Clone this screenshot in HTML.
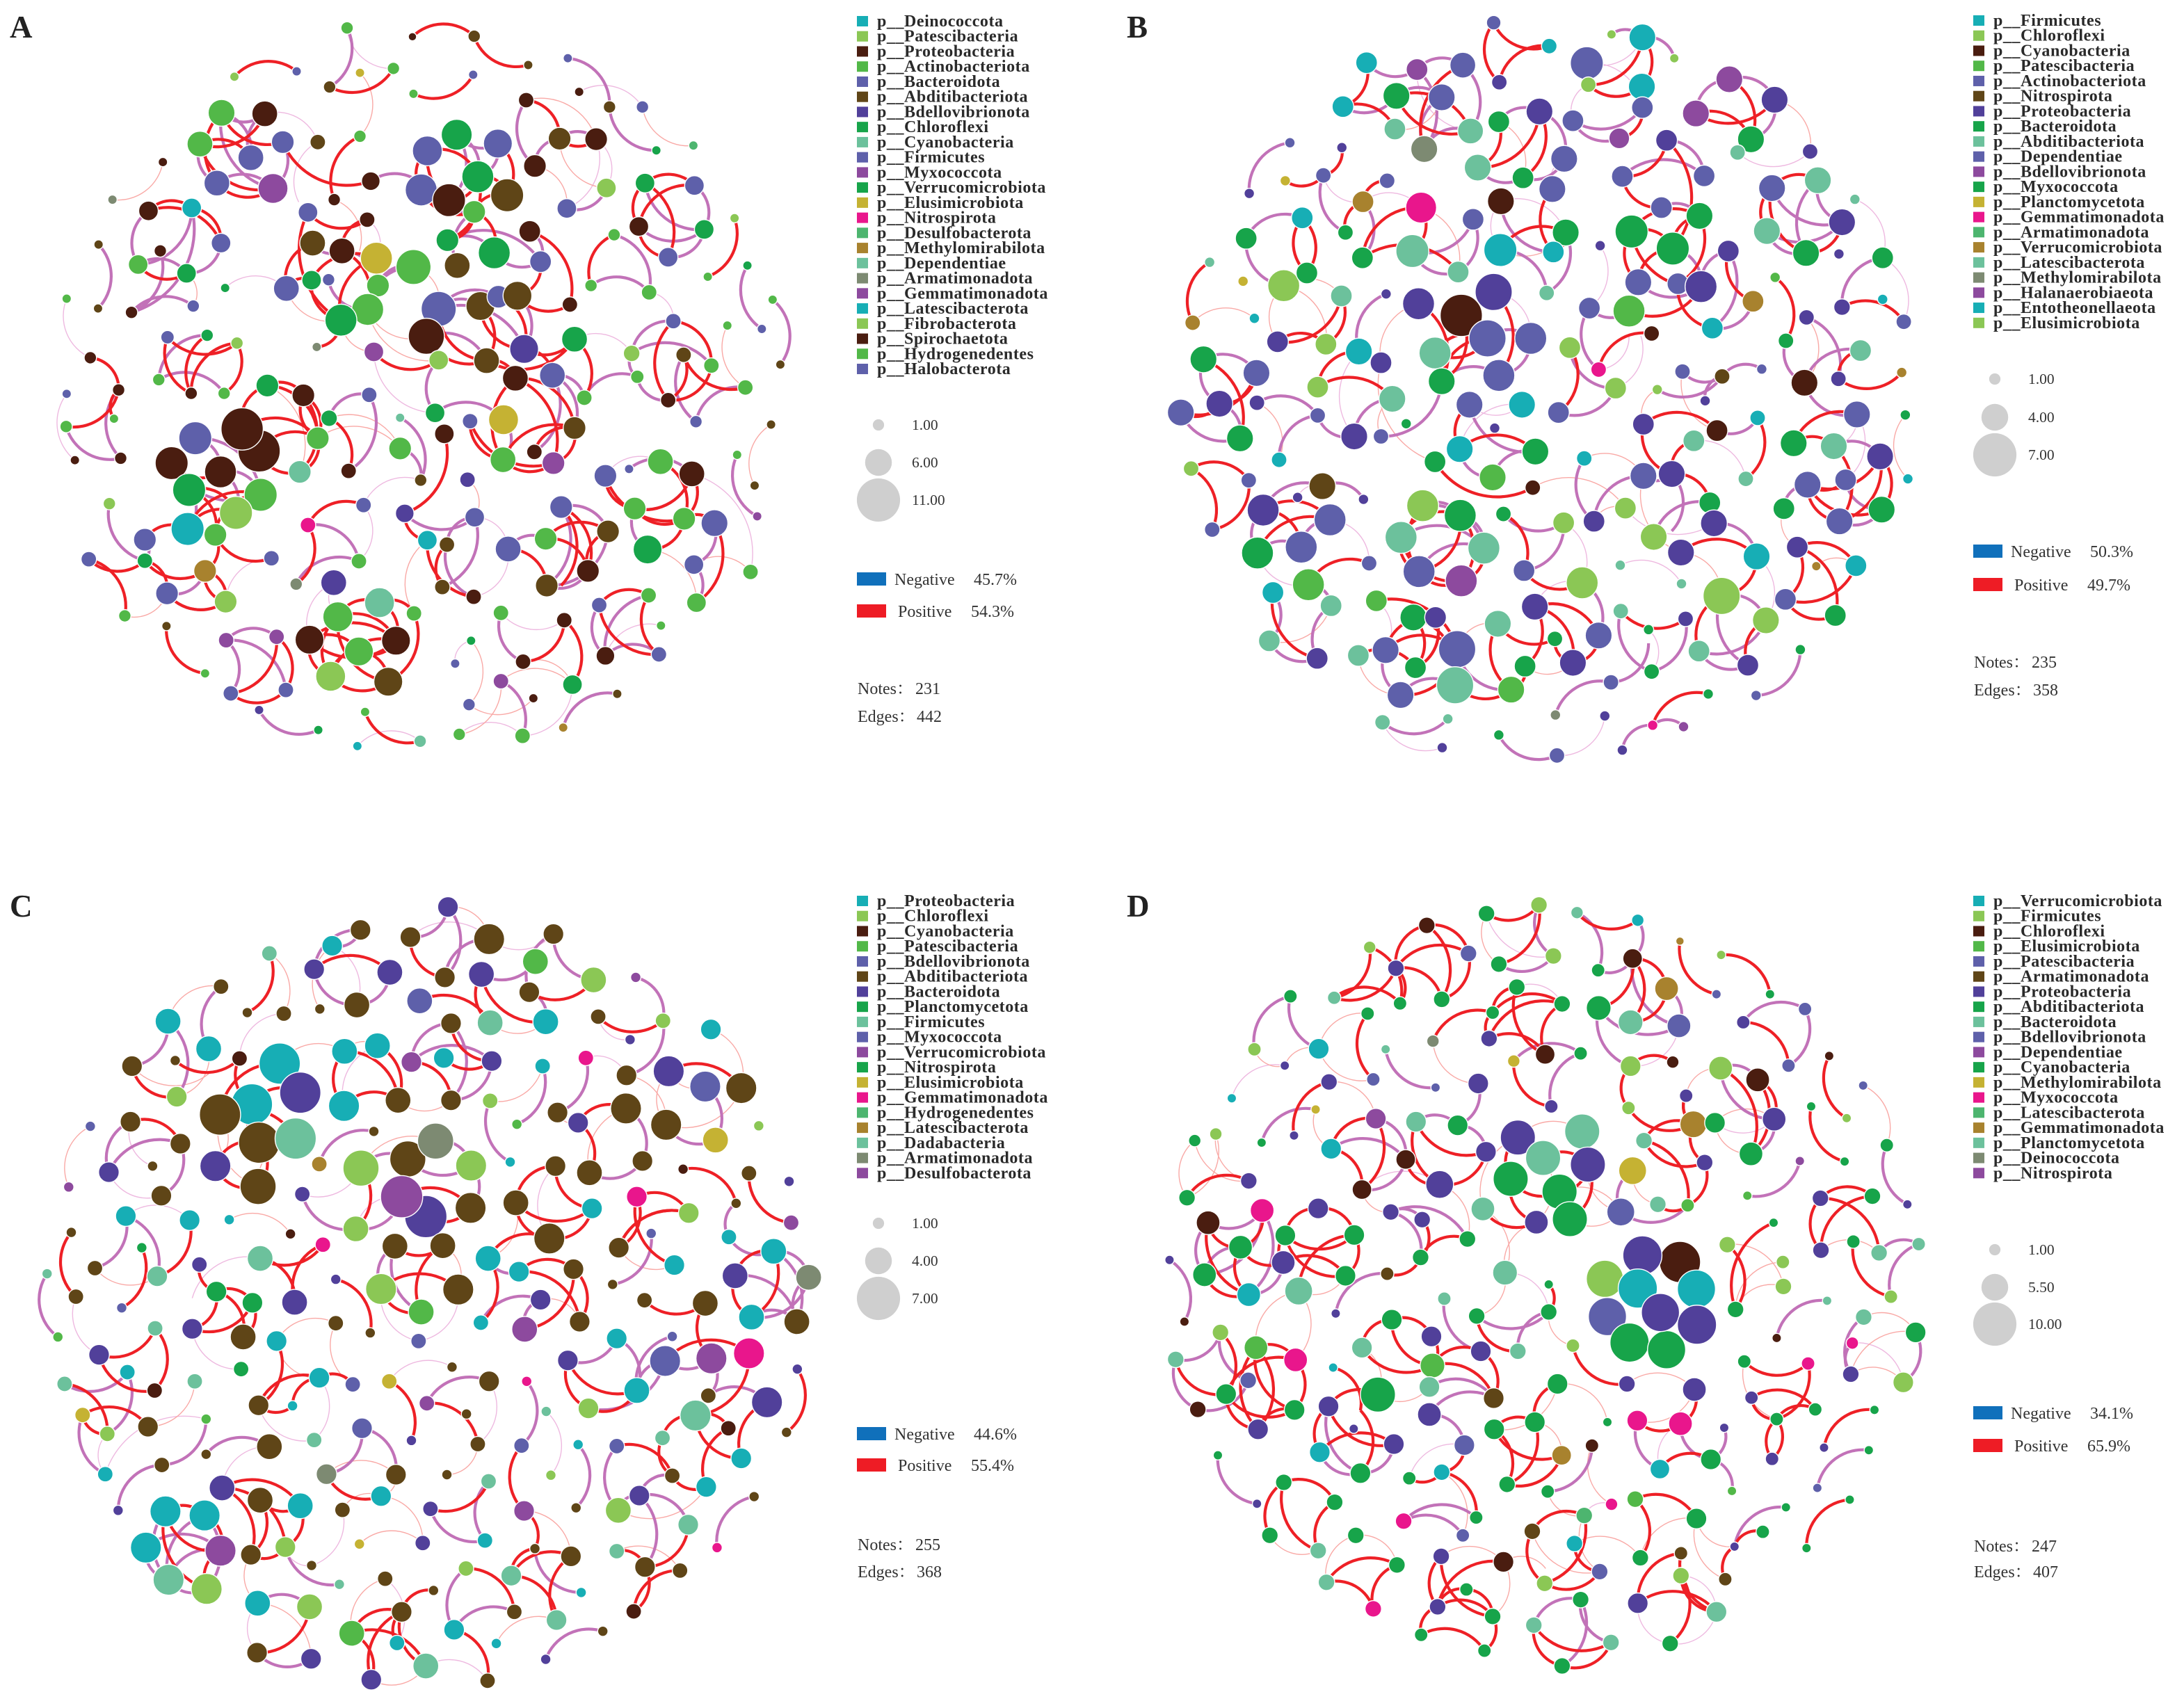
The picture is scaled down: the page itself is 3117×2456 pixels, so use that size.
<!DOCTYPE html>
<html lang="en">
<head>
<meta charset="utf-8">
<title>Co-occurrence networks A-D</title>
<style>
html,body{margin:0;padding:0;background:#fff;}
svg{display:block;}
text{font-family:"Liberation Serif","Noto Serif CJK SC",serif;}
.lg{font-weight:bold;font-size:24px;fill:#2a2a2a;letter-spacing:.55px;}
.sz{font-size:21.5px;fill:#333;}
.st{font-size:24px;fill:#333;}
.pl{font-weight:bold;font-size:45px;fill:#222;}
</style>
</head>
<body>
<svg id="fig" xmlns="http://www.w3.org/2000/svg" width="3117" height="2456" viewBox="0 0 3117 2456"></svg>
<script>
// node tuples: [layout x, layout y, node size, phylum colour index]
// edge tuples: [x1, y1, x2, y2, kind (0 positive, 1 negative, 2 weak positive, 3 weak negative), bend side]
const nodesA=[[634,43,12,3],[761,61,8,2],[881,60,12,5],[536,132,9,4],[415,143,9,1],[724,126,12,3],[659,135,9,10],[600,164,12,5],[879,139,9,4],[763,178,9,3],[986,119,9,5],[1063,105,9,4],[1085,174,9,2],[1144,205,12,5],[1208,205,12,4],[982,191,15,2],[1235,294,9,7],[1307,284,9,12],[390,217,26,3],[474,219,25,2],[348,281,25,3],[509,277,22,4],[577,277,15,5],[447,309,25,4],[381,361,25,4],[490,372,29,9],[276,318,9,2],[178,395,9,14],[659,265,12,3],[790,295,29,4],[847,262,30,7],[927,280,28,4],[1047,270,22,5],[1118,271,22,2],[999,326,22,2],[680,357,18,2],[609,395,12,2],[778,375,31,4],[888,348,31,7],[832,396,32,2],[945,386,32,5],[881,420,22,3],[1138,371,19,1],[1061,413,19,4],[1213,361,19,7],[1309,366,19,4],[1201,450,19,2],[1328,456,19,7],[1258,513,19,4],[1387,433,9,1],[1153,467,12,3],[558,421,19,4],[673,436,15,2],[332,412,19,0],[248,418,19,2],[389,484,19,4],[271,500,12,2],[228,528,19,3],[322,546,19,7],[151,487,9,5],[150,618,9,5],[215,626,12,2],[335,613,12,4],[397,576,9,7],[89,598,9,3],[567,484,25,5],[624,500,25,2],[691,515,31,10],[763,533,34,3],[829,478,22,7],[989,460,21,2],[920,504,31,7],[848,530,25,5],[1010,522,21,4],[516,577,25,4],[565,560,19,7],[598,559,12,4],[694,571,22,3],[674,620,31,3],[622,642,31,7],[812,619,34,4],[893,613,28,5],[928,594,22,4],[965,592,28,5],[1067,610,15,2],[1108,571,12,3],[1221,585,15,3],[1335,553,9,3],[1412,530,9,7],[1461,600,9,3],[1440,660,9,4],[1476,733,9,5],[575,697,9,14],[788,675,35,2],[686,707,19,9],[812,724,19,1],[905,725,25,5],[978,701,28,6],[1076,681,25,7],[961,761,25,2],[1033,755,25,4],[285,677,13,4],[362,673,12,7],[420,689,12,1],[268,764,12,3],[331,792,12,2],[395,792,12,3],[135,719,12,2],[190,785,12,2],[89,793,9,4],[88,860,12,3],[181,844,9,3],[194,925,12,2],[105,929,9,2],[1268,644,15,4],[1187,710,16,1],[1373,653,9,3],[1288,713,15,5],[1198,758,13,3],[1342,735,15,3],[1408,780,15,3],[1258,806,15,2],[1312,850,12,4],[1095,801,15,3],[1458,856,9,5],[1392,918,9,3],[1426,981,9,5],[1431,1044,9,9],[479,776,22,7],[549,796,22,2],[599,843,16,7],[577,884,22,3],[463,910,41,2],[430,865,41,2],[339,884,32,4],[293,935,32,2],[327,990,32,7],[388,953,31,2],[466,1000,32,3],[418,1037,32,1],[324,1070,32,0],[378,1082,22,3],[542,953,22,8],[677,795,15,4],[737,842,9,8],[737,905,22,3],[637,951,15,2],[805,832,19,7],[873,849,15,4],[823,875,19,2],[938,846,29,10],[937,928,25,3],[998,912,15,2],[1035,935,22,9],[1076,863,22,5],[777,970,12,5],[868,969,15,6],[1136,961,22,4],[1182,947,9,4],[1243,932,25,3],[1304,957,25,2],[1193,1028,22,3],[1289,1049,22,3],[1348,1058,26,4],[1218,1112,28,7],[1308,1143,19,4],[1418,1158,15,3],[1313,1221,19,3],[666,1021,15,4],[558,1062,15,11],[657,1136,15,3],[746,1038,18,6],[882,1046,19,4],[790,1093,19,0],[828,1102,15,5],[535,1183,12,14],[608,1180,25,6],[697,1221,29,8],[616,1250,29,3],[561,1297,28,2],[729,1299,28,2],[657,1321,28,3],[602,1372,29,1],[714,1383,28,5],[764,1243,15,3],[1050,1025,22,4],[947,1111,25,4],[1020,1090,22,3],[1141,1075,22,5],[1022,1186,22,5],[1102,1156,22,2],[819,1189,15,5],[880,1209,15,2],[241,1092,22,4],[132,1132,15,4],[241,1135,15,7],[358,1156,22,13],[487,1130,15,4],[284,1202,22,4],[398,1219,22,1],[172,1018,12,1],[202,1248,12,3],[283,1269,9,5],[358,1366,9,3],[399,1298,15,9],[497,1291,15,9],[408,1407,15,4],[515,1400,15,4],[463,1441,9,6],[578,1482,9,7],[669,1445,9,3],[776,1505,12,8],[654,1515,9,0],[933,1242,15,3],[1056,1257,15,2],[976,1342,15,2],[875,1299,9,7],[844,1346,9,4],[1072,1389,19,7],[933,1382,15,9],[996,1417,9,2],[871,1430,12,4],[852,1491,12,3],[975,1494,15,3],[1159,1408,9,5],[1054,1477,9,13],[1124,1226,15,4],[1220,1206,15,3],[1244,1268,9,3],[1136,1330,18,2],[1240,1327,15,4]];
const edgesA=[[415,143,536,132,0,1],[634,43,600,164,1,1],[600,164,724,126,0,0],[634,43,724,126,3,0],[659,135,659,265,2,1],[761,61,881,60,0,1],[881,60,986,119,0,0],[763,178,879,139,0,0],[1063,105,1144,205,1,1],[1144,205,1235,294,1,0],[1085,174,1208,205,3,1],[1208,205,1307,284,2,0],[390,217,474,219,1,0],[390,217,509,277,0,0],[348,281,474,219,0,0],[348,281,447,309,0,1],[348,281,381,361,1,0],[390,217,381,361,0,0],[381,361,490,372,0,0],[381,361,490,372,1,1],[390,217,490,372,1,0],[447,309,474,219,1,1],[509,277,490,372,1,1],[348,281,490,372,0,0],[390,217,447,309,1,1],[474,219,577,277,3,1],[509,277,680,357,0,0],[659,265,609,395,0,0],[680,357,790,375,1,1],[576,277,540,400,3,0],[178,395,276,318,2,0],[248,418,332,412,0,1],[248,418,389,484,0,1],[332,412,389,484,0,1],[248,418,228,528,1,0],[332,412,228,528,1,1],[228,528,322,546,0,0],[228,528,322,546,1,1],[389,484,322,546,1,1],[215,626,332,412,1,0],[215,626,335,613,1,1],[322,546,335,613,2,1],[151,487,150,618,1,1],[271,500,215,626,1,1],[397,576,516,577,3,1],[89,598,135,719,3,0],[135,719,190,785,0,1],[88,860,190,785,0,0],[181,844,190,785,0,1],[190,785,194,925,1,0],[88,860,194,925,1,0],[89,793,105,929,3,0],[285,677,420,689,0,0],[362,673,331,792,0,0],[420,689,331,792,0,0],[285,677,331,792,0,0],[420,689,395,792,0,1],[268,764,395,792,1,1],[268,764,362,673,1,1],[558,421,673,436,0,0],[567,484,624,500,1,0],[558,421,622,642,0,0],[567,484,516,577,0,0],[624,500,674,620,0,1],[691,515,622,642,0,0],[565,560,622,642,0,0],[516,577,565,560,0,1],[565,560,691,515,0,1],[598,559,674,620,1,0],[624,500,694,571,1,1],[673,436,624,500,0,0],[673,436,691,515,3,1],[763,533,694,571,1,0],[763,533,674,620,1,0],[609,395,658,500,2,1],[516,577,622,642,2,0],[674,620,788,675,2,0],[622,642,686,707,2,0],[622,642,575,697,0,1],[674,620,812,724,2,0],[686,707,812,724,0,0],[686,707,805,832,3,0],[790,295,888,348,0,1],[847,262,888,348,1,1],[790,295,778,375,0,0],[927,280,945,386,0,1],[888,348,945,386,0,1],[847,262,832,396,1,1],[778,375,881,420,0,0],[790,295,881,420,0,0],[888,348,832,396,0,1],[832,396,881,420,1,0],[881,420,829,478,0,1],[888,348,829,478,0,1],[881,420,920,504,0,1],[881,420,848,530,1,0],[829,478,920,504,1,1],[847,262,927,280,1,0],[927,280,888,348,1,1],[945,386,881,420,0,0],[778,375,888,348,3,0],[989,460,1067,610,0,1],[965,592,1067,610,0,0],[1010,522,965,592,0,1],[989,460,1010,522,1,1],[920,504,1010,522,1,0],[829,478,1010,522,1,1],[812,619,893,613,1,1],[812,619,928,594,1,1],[893,613,965,592,0,1],[812,619,905,725,0,0],[893,613,905,725,0,1],[788,675,905,725,1,1],[812,619,978,701,1,1],[893,613,978,701,0,0],[905,725,1076,681,0,0],[978,701,1076,681,0,0],[965,592,978,701,1,1],[928,594,978,701,0,1],[763,533,812,619,2,1],[1076,681,1095,801,0,1],[1095,801,1198,758,1,1],[1076,681,1187,710,3,1],[1033,755,1095,801,1,1],[1033,755,1076,863,1,1],[961,761,1076,863,0,1],[961,761,1035,935,0,1],[1033,755,998,912,1,1],[961,761,937,928,0,0],[978,701,1033,755,0,1],[905,725,961,761,0,1],[788,675,812,724,2,1],[788,675,905,725,0,0],[812,724,805,832,1,0],[805,832,938,846,1,1],[873,849,937,928,0,0],[938,846,937,928,1,1],[823,875,746,1038,0,1],[873,849,1035,935,0,0],[937,928,1076,863,0,1],[998,912,1076,863,0,1],[937,928,1035,935,0,0],[1076,863,1035,935,0,1],[737,905,777,970,1,1],[737,842,777,970,1,1],[577,884,737,905,2,1],[637,951,677,795,1,0],[599,843,737,905,2,1],[677,795,599,843,1,0],[599,843,637,951,0,1],[777,970,666,1021,3,0],[868,969,882,1046,2,1],[479,776,549,796,0,1],[479,776,577,884,0,1],[549,796,577,884,0,1],[549,796,577,884,0,0],[430,865,577,884,0,1],[463,910,577,884,0,1],[577,884,542,953,0,1],[479,776,430,865,0,0],[479,776,542,953,2,1],[463,910,542,953,0,0],[549,796,542,953,0,1],[339,884,388,953,1,1],[339,884,466,1000,1,1],[293,935,388,953,0,0],[293,935,466,1000,1,0],[388,953,466,1000,1,1],[327,990,418,1037,0,1],[327,990,378,1082,0,1],[388,953,418,1037,1,1],[324,1070,418,1037,0,1],[324,1070,466,1000,0,1],[378,1082,466,1000,0,1],[324,1070,241,1092,0,0],[327,990,324,1070,1,1],[378,1082,358,1156,0,1],[378,1082,487,1130,0,0],[358,1156,398,1219,0,1],[358,1156,398,1219,0,0],[241,1135,358,1156,0,0],[132,1132,241,1135,0,0],[241,1092,241,1135,1,1],[132,1132,202,1248,0,1],[284,1202,398,1219,0,0],[284,1202,398,1219,1,0],[241,1135,284,1202,0,1],[284,1202,358,1156,1,0],[172,1018,241,1135,1,0],[398,1219,487,1130,3,1],[202,1248,284,1202,2,0],[558,1062,666,1021,0,1],[558,1062,657,1136,1,1],[558,1062,535,1183,0,1],[535,1183,657,1136,1,1],[666,1021,657,1136,3,1],[746,1038,882,1046,1,0],[746,1038,790,1093,0,0],[790,1093,880,1209,0,0],[828,1102,882,1046,1,1],[828,1102,880,1209,1,0],[819,1189,828,1102,0,1],[882,1046,819,1189,1,1],[790,1093,764,1243,2,0],[882,1046,947,1111,3,1],[880,1209,947,1111,3,0],[616,1250,697,1221,0,1],[561,1297,657,1321,0,1],[616,1250,729,1299,0,1],[697,1221,729,1299,0,1],[561,1297,602,1372,0,0],[602,1372,714,1383,0,0],[657,1321,714,1383,0,1],[729,1299,657,1321,0,1],[616,1250,714,1383,0,0],[561,1297,729,1299,0,0],[602,1372,729,1299,0,1],[616,1250,602,1372,0,0],[657,1321,602,1372,0,0],[764,1243,714,1383,0,1],[608,1180,561,1297,3,0],[608,1180,616,1250,3,0],[697,1221,764,1243,0,1],[561,1297,729,1299,0,1],[283,1269,358,1366,0,0],[399,1298,497,1291,1,1],[399,1298,515,1400,1,1],[408,1407,515,1400,0,0],[408,1407,497,1291,0,0],[497,1291,515,1400,0,1],[399,1298,408,1407,1,1],[463,1441,578,1482,1,0],[669,1445,776,1505,0,0],[654,1515,776,1505,3,1],[933,1242,976,1342,1,0],[976,1342,1056,1257,0,0],[1056,1257,1072,1389,0,1],[933,1242,1056,1257,3,0],[875,1299,844,1346,3,0],[875,1299,871,1430,2,1],[976,1342,1072,1389,2,1],[933,1382,975,1494,1,1],[871,1430,996,1417,2,0],[933,1382,852,1491,2,1],[852,1491,975,1494,3,1],[975,1494,1072,1389,3,0],[1054,1477,1159,1408,1,1],[933,1382,1072,1389,2,1],[1124,1226,1220,1206,0,1],[1124,1226,1136,1330,1,0],[1124,1226,1240,1327,0,0],[1220,1206,1240,1327,0,0],[1220,1206,1136,1330,1,0],[1136,1330,1240,1327,1,1],[1136,1330,1244,1268,3,1],[1050,1025,1141,1075,1,1],[1050,1025,1102,1156,0,1],[947,1111,1020,1090,1,1],[947,1111,1022,1186,0,1],[1020,1090,1102,1156,0,1],[1050,1025,1022,1186,1,1],[1141,1075,1022,1186,1,1],[1141,1075,1102,1156,0,0],[1022,1186,1102,1156,1,0],[1020,1090,1141,1075,0,1],[1050,1025,1050,1186,0,1],[1136,961,1243,932,3,1],[1136,961,1289,1049,0,0],[1193,1028,1289,1049,0,0],[1243,932,1289,1049,0,1],[1304,957,1193,1028,0,1],[1304,957,1289,1049,0,1],[1136,961,1193,1028,0,0],[1182,947,1304,957,1,1],[1218,1112,1289,1049,0,0],[1193,1028,1304,957,1,0],[1193,1028,1218,1112,1,0],[1348,1058,1313,1221,0,1],[1348,1058,1308,1143,1,1],[1289,1049,1348,1058,0,1],[1308,1143,1418,1158,2,1],[1308,1143,1313,1221,1,1],[1218,1112,1313,1221,2,1],[1304,957,1418,1158,3,1],[1213,361,1309,366,0,1],[1201,450,1309,366,0,1],[1213,361,1258,513,0,1],[1213,361,1201,450,0,0],[1213,361,1328,456,1,0],[1201,450,1258,513,0,0],[1309,366,1328,456,1,1],[1258,513,1328,456,1,0],[1201,450,1328,456,1,0],[1153,467,1108,571,0,0],[1153,467,1221,585,1,1],[1108,571,1221,585,1,1],[1387,433,1335,553,0,1],[1412,530,1440,660,1,0],[1461,600,1476,733,1,1],[1221,585,1268,644,3,1],[1268,644,1187,710,1,0],[1268,644,1342,735,0,1],[1268,644,1258,806,0,0],[1187,710,1342,735,1,1],[1198,758,1258,806,1,0],[1288,713,1258,806,0,1],[1258,806,1342,735,0,0],[1288,713,1408,780,0,0],[1312,850,1408,780,1,1],[1288,713,1312,850,1,0],[1187,710,1198,758,1,0],[1373,653,1408,780,2,0],[1458,856,1426,981,2,0],[1392,918,1431,1044,1,0],[982,191,999,326,1,0],[982,191,1047,270,0,1],[999,326,1047,270,1,1],[1047,270,1118,271,0,0],[1047,270,1118,271,1,1],[982,191,1118,271,2,1],[1118,271,1138,371,3,1],[1061,413,1138,371,1,0],[999,326,1061,413,2,1],[1047,270,1138,371,2,0],[1061,413,1118,271,3,0]];
const phylaA=["Deinococcota","Patescibacteria","Proteobacteria","Actinobacteriota","Bacteroidota","Abditibacteriota","Bdellovibrionota","Chloroflexi","Cyanobacteria","Firmicutes","Myxococcota","Verrucomicrobiota","Elusimicrobiota","Nitrospirota","Desulfobacterota","Methylomirabilota","Dependentiae","Armatimonadota","Gemmatimonadota","Latescibacterota","Fibrobacterota","Spirochaetota","Hydrogenedentes","Halobacterota"];
const sizeTicksA=["1.00","6.00","11.00"];
const statsA=["45.7%","54.3%","231","442"];

const nodesB=[[686,18,14,4],[794,66,15,0],[697,140,15,6],[439,100,21,0],[537,114,21,9],[626,105,25,4],[393,190,21,0],[497,168,26,7],[585,171,26,4],[494,236,21,8],[641,240,25,8],[551,277,26,14],[975,48,26,0],[915,42,9,1],[1037,91,9,1],[867,101,32,4],[870,145,15,1],[974,149,26,0],[975,192,21,4],[840,219,21,4],[930,255,20,9],[775,200,26,6],[696,221,21,7],[823,297,26,4],[655,315,26,8],[743,336,21,7],[800,359,26,4],[700,384,26,2],[1144,134,26,9],[1232,176,26,6],[1079,204,26,9],[1186,257,26,7],[1160,284,15,8],[1301,282,15,6],[1022,259,21,6],[936,333,21,4],[1095,332,21,4],[1012,397,21,4],[1086,414,26,7],[954,446,32,7],[1034,481,32,7],[1142,486,21,6],[1227,357,26,4],[1316,341,26,8],[1217,445,26,8],[1363,427,26,6],[1293,490,26,7],[1388,380,10,8],[1357,492,10,6],[1442,500,21,7],[290,264,10,4],[211,368,10,6],[391,274,10,6],[281,342,10,10],[355,331,15,4],[479,342,15,4],[432,385,21,13],[545,397,30,11],[398,448,15,7],[314,418,21,0],[205,460,21,7],[646,421,21,4],[528,486,32,8],[431,500,21,7],[617,529,21,8],[699,484,32,0],[826,448,26,7],[802,488,21,0],[893,475,10,6],[134,509,10,8],[199,548,10,10],[278,557,31,1],[323,531,21,7],[390,578,21,8],[101,633,15,13],[221,624,10,0],[266,672,21,6],[360,677,21,1],[477,574,10,6],[540,594,31,6],[686,570,36,6],[623,618,41,2],[789,572,15,8],[674,665,36,4],[758,665,31,4],[572,695,31,8],[424,692,26,0],[467,715,21,6],[585,753,26,7],[696,741,31,4],[872,603,21,4],[949,609,31,3],[967,550,26,4],[1044,553,21,4],[1089,559,31,6],[1190,589,21,13],[1111,644,21,0],[993,655,15,2],[1233,540,10,3],[1254,670,15,7],[1294,622,15,6],[1363,601,16,6],[1442,585,10,0],[1483,631,15,4],[834,684,21,1],[890,729,15,11],[923,767,21,1],[122,708,26,7],[225,736,26,4],[78,817,26,4],[153,799,26,6],[193,870,26,7],[226,797,15,6],[344,765,21,1],[489,789,26,8],[344,823,15,4],[415,866,26,6],[467,866,15,4],[516,840,10,7],[269,914,15,0],[639,801,26,4],[741,801,26,0],[812,817,21,4],[688,849,10,6],[620,892,26,0],[767,897,26,7],[572,918,21,7],[684,950,26,3],[762,971,15,2],[1053,733,15,4],[1130,743,15,5],[1207,728,10,4],[1004,770,10,1],[1097,793,10,6],[977,841,21,6],[1120,854,21,2],[1199,828,15,0],[1075,875,21,8],[1176,953,15,8],[1290,756,26,2],[1356,748,15,6],[1399,690,21,8],[1479,735,10,13],[1392,821,26,4],[1486,822,10,7],[1269,880,26,7],[1347,886,26,8],[1437,907,26,6],[1491,953,10,0],[1370,955,21,4],[1296,965,26,4],[1250,1014,21,7],[1358,1040,26,4],[1440,1016,26,7],[98,932,15,1],[210,956,15,4],[139,1057,15,4],[353,968,26,5],[305,991,10,6],[433,995,10,6],[238,1017,31,6],[368,1037,31,4],[227,1105,31,7],[312,1093,31,4],[444,1126,15,4],[326,1170,31,3],[257,1186,21,0],[370,1213,21,8],[250,1285,21,8],[343,1321,21,6],[548,1008,31,1],[621,1028,31,7],[506,1073,31,8],[667,1095,31,8],[541,1143,31,4],[623,1162,31,9],[705,1025,15,7],[822,1043,21,1],[745,1141,21,4],[858,1166,31,1],[862,911,15,0],[977,947,26,4],[1032,943,26,6],[881,1040,21,6],[942,1013,21,1],[1106,1002,21,7],[1114,1044,26,6],[997,1072,26,1],[1050,1104,26,6],[1197,1112,26,0],[1129,1193,36,1],[1215,1243,26,1],[932,1130,10,8],[1051,1168,10,8],[766,1215,26,6],[458,1203,21,3],[530,1237,26,7],[573,1237,21,6],[476,1304,26,4],[615,1302,36,4],[694,1250,26,8],[423,1315,21,8],[534,1340,21,7],[611,1376,36,8],[505,1396,26,4],[720,1385,26,3],[805,1281,15,7],[747,1337,21,7],[840,1330,26,6],[890,1274,26,4],[933,1224,15,8],[987,1262,10,7],[1059,1240,15,6],[993,1348,15,7],[914,1370,15,4],[1085,1306,21,8],[1180,1335,21,6],[1276,1093,21,6],[1390,1131,21,0],[1313,1132,9,13],[1253,1200,21,4],[1350,1233,21,7],[1282,1303,10,7],[1196,1397,10,4],[1103,1394,10,7],[995,1458,10,11],[1055,1461,10,9],[936,1509,10,6],[902,1439,10,6],[806,1437,10,14],[809,1520,15,4],[696,1478,10,7],[597,1445,10,8],[470,1452,15,8],[586,1504,10,6]];
const edgesB=[[686,18,697,140,0,0],[686,18,794,66,0,0],[697,140,794,66,0,1],[439,100,537,114,1,0],[537,114,626,105,1,1],[439,100,393,190,0,1],[393,190,494,236,0,1],[393,190,497,168,1,0],[497,168,641,240,0,1],[497,168,641,240,0,0],[537,114,551,277,1,1],[626,105,641,240,1,1],[626,105,551,277,0,0],[585,171,551,277,1,0],[551,277,641,240,1,1],[497,168,585,171,1,1],[537,114,641,240,3,0],[585,171,494,236,2,1],[867,101,975,48,3,0],[915,42,975,48,1,1],[975,48,1037,91,1,1],[870,145,974,149,1,0],[867,101,975,192,3,1],[975,48,870,145,0,1],[975,48,974,149,0,1],[870,145,974,149,0,0],[870,145,840,219,3,0],[840,219,975,192,1,0],[840,219,930,255,1,0],[930,255,975,192,0,0],[974,149,975,192,0,1],[775,200,823,297,1,1],[696,221,655,315,0,1],[775,200,655,315,0,1],[775,200,743,336,0,1],[696,221,775,200,1,1],[655,315,743,336,1,0],[823,297,743,336,1,1],[696,221,743,336,2,1],[800,359,823,297,3,1],[1144,134,1079,204,1,0],[1144,134,1186,257,0,1],[1079,204,1232,176,0,0],[1079,204,1186,257,0,1],[1144,134,1232,176,1,1],[1232,176,1186,257,1,1],[1186,257,1160,284,0,1],[1232,176,1301,282,2,1],[1160,284,1301,282,3,0],[1022,259,936,333,0,1],[936,333,1095,332,1,1],[1022,259,1095,332,1,1],[1022,259,1034,481,0,1],[936,333,1012,397,0,0],[1012,397,1086,414,1,1],[1086,414,954,446,0,0],[954,446,1034,481,0,1],[1086,414,1034,481,0,0],[954,446,967,550,0,0],[1086,414,1044,553,0,1],[954,446,1089,559,0,0],[1034,481,1089,559,1,1],[967,550,1089,559,1,0],[1142,486,1089,559,1,0],[1142,486,1190,589,0,0],[1142,486,1111,644,1,1],[949,609,1089,559,0,0],[1044,553,1111,644,0,0],[1111,644,1190,589,1,0],[967,550,1034,481,0,1],[893,475,872,603,3,1],[1227,357,1316,341,0,1],[1227,357,1217,445,0,0],[1316,341,1363,427,1,0],[1227,357,1363,427,1,0],[1217,445,1293,490,1,0],[1316,341,1293,490,1,0],[1217,445,1363,427,1,0],[1293,490,1363,427,0,0],[1388,380,1442,500,3,1],[1227,357,1293,490,0,0],[1442,500,1363,601,1,0],[1363,601,1483,631,0,1],[1442,500,1483,631,3,1],[290,264,211,368,1,0],[391,274,355,331,0,1],[281,342,355,331,0,0],[355,331,398,448,1,0],[355,331,432,385,3,0],[432,385,479,342,0,1],[432,385,431,500,1,1],[398,448,432,385,0,1],[431,500,545,397,0,1],[431,500,617,529,0,1],[528,486,617,529,1,0],[545,397,528,486,0,1],[432,385,545,397,3,1],[545,397,617,529,2,1],[528,486,646,421,1,0],[646,421,617,529,1,1],[314,418,205,460,1,0],[314,418,323,531,0,1],[314,418,323,531,0,0],[205,460,278,557,1,0],[278,557,390,578,2,1],[390,578,266,672,0,1],[390,578,360,677,0,1],[266,672,360,677,0,1],[278,557,360,677,2,1],[278,557,266,672,2,0],[134,509,101,633,0,0],[101,633,221,624,2,1],[700,384,826,448,3,1],[700,384,802,488,1,0],[699,484,826,448,0,1],[802,488,826,448,0,0],[800,359,802,488,0,0],[826,448,789,572,1,1],[699,484,789,572,1,1],[699,484,826,448,2,0],[700,384,699,484,3,0],[540,594,585,753,0,1],[623,618,585,753,0,1],[686,570,758,665,3,1],[686,570,696,741,0,1],[674,665,572,695,0,0],[674,665,585,753,0,0],[623,618,674,665,0,1],[572,695,674,665,0,0],[674,665,758,665,1,1],[696,741,758,665,1,0],[585,753,696,741,1,1],[477,574,424,692,1,0],[467,715,540,594,2,1],[467,715,572,918,2,0],[424,692,344,765,0,0],[344,765,489,789,0,1],[424,692,415,866,3,0],[489,789,415,866,1,0],[489,789,467,866,2,0],[467,866,585,753,1,0],[122,708,225,736,1,1],[122,708,153,799,1,0],[122,708,193,870,0,1],[225,736,78,817,0,1],[78,817,193,870,1,0],[153,799,193,870,1,1],[78,817,153,799,0,0],[225,736,153,799,0,1],[226,797,344,823,1,1],[226,797,269,914,2,1],[269,914,344,823,1,1],[344,823,415,866,1,0],[639,801,620,892,0,0],[639,801,767,897,1,0],[620,892,684,950,1,0],[620,892,767,897,0,1],[684,950,767,897,1,1],[741,801,620,892,3,0],[639,801,741,801,3,0],[572,918,762,971,0,0],[812,817,923,767,1,0],[812,817,834,684,0,0],[834,684,923,767,1,0],[890,729,993,655,0,1],[872,603,890,729,1,0],[890,729,949,660,3,0],[872,603,949,609,1,0],[923,767,972,660,3,0],[1053,733,1130,743,1,0],[1004,770,1130,743,1,0],[1130,743,1207,728,1,1],[1130,743,1097,793,1,0],[1053,733,1120,854,2,0],[977,841,1120,854,0,1],[977,841,1032,943,0,0],[1120,854,1199,828,1,0],[1199,828,1176,953,0,1],[1075,875,1032,943,0,0],[1075,875,1176,953,3,1],[1004,770,977,841,2,0],[1233,540,1254,670,0,1],[1294,622,1356,748,1,1],[1254,670,1290,756,1,0],[1290,756,1399,690,1,1],[1356,748,1479,735,0,0],[1399,690,1356,748,0,0],[1294,622,1290,756,2,1],[1290,756,1392,821,1,0],[1392,821,1269,880,0,0],[1392,821,1347,886,3,1],[1269,880,1347,886,0,1],[1347,886,1437,907,1,1],[1296,965,1437,907,0,0],[1347,886,1358,1040,0,1],[1296,965,1358,1040,0,0],[1437,907,1358,1040,0,1],[1437,907,1440,1016,0,1],[1370,955,1440,1016,1,0],[1296,965,1370,955,0,0],[1358,1040,1440,1016,1,0],[1296,965,1440,1016,0,0],[1250,1014,1296,965,1,1],[1486,822,1491,953,2,0],[1392,821,1370,955,3,1],[98,932,210,956,0,1],[98,932,139,1057,0,1],[139,1057,210,956,0,0],[353,968,433,995,1,1],[305,991,353,968,3,1],[238,1017,368,1037,0,1],[238,1017,312,1093,0,1],[227,1105,368,1037,0,1],[227,1105,312,1093,1,1],[312,1093,368,1037,1,1],[238,1017,353,968,1,1],[368,1037,444,1126,3,1],[227,1105,326,1170,3,0],[326,1170,444,1126,0,1],[238,1017,227,1105,1,0],[257,1186,343,1321,0,0],[257,1186,250,1285,1,1],[250,1285,343,1321,1,0],[326,1170,370,1213,1,1],[370,1213,343,1321,1,0],[250,1285,370,1213,2,0],[548,1008,621,1028,1,1],[506,1073,621,1028,0,1],[548,1008,541,1143,0,0],[621,1028,541,1143,0,1],[621,1028,623,1162,0,1],[506,1073,623,1162,0,0],[541,1143,623,1162,0,0],[506,1073,667,1095,1,1],[506,1073,541,1143,0,0],[548,1008,667,1095,1,1],[667,1095,623,1162,0,1],[541,1143,667,1095,1,1],[621,1028,667,1095,1,1],[705,1025,745,1141,0,1],[705,1025,822,1043,1,0],[822,1043,745,1141,1,1],[822,1043,858,1166,3,1],[745,1141,858,1166,0,0],[862,911,977,947,2,1],[862,911,881,1040,1,0],[881,1040,977,947,1,1],[977,947,1032,943,1,0],[1032,943,1106,1002,0,1],[1032,943,1032,1060,1,1],[942,1013,1114,1044,3,0],[977,947,1050,1104,2,0],[997,1072,1106,1002,1,1],[881,1040,942,1013,2,1],[762,971,942,1013,2,1],[1114,1044,1197,1112,1,1],[1050,1104,1197,1112,0,1],[1050,1104,1129,1193,2,1],[1197,1112,1129,1193,0,1],[1197,1112,1215,1243,3,1],[1129,1193,1215,1243,1,1],[1129,1193,1085,1306,0,0],[1129,1193,1180,1335,1,0],[1085,1306,1215,1243,1,0],[1085,1306,1180,1335,1,0],[1215,1243,1180,1335,0,0],[932,1130,1051,1168,3,1],[766,1215,890,1274,0,1],[766,1215,840,1330,0,1],[766,1215,747,1337,0,1],[805,1281,840,1330,0,0],[694,1250,805,1281,0,0],[694,1250,720,1385,0,0],[747,1337,840,1330,2,0],[890,1274,840,1330,0,1],[858,1166,890,1274,1,1],[766,1215,858,1166,3,1],[720,1385,747,1337,0,0],[720,1385,615,1302,1,1],[694,1250,615,1302,2,0],[458,1203,615,1302,0,1],[530,1237,534,1340,0,1],[573,1237,534,1340,0,1],[476,1304,615,1302,0,1],[530,1237,611,1376,0,1],[423,1315,534,1340,0,1],[476,1304,505,1396,1,0],[505,1396,615,1302,0,0],[505,1396,611,1376,1,1],[611,1376,720,1385,0,0],[476,1304,573,1237,0,1],[534,1340,573,1237,0,0],[458,1203,476,1304,3,1],[423,1315,505,1396,2,0],[933,1224,1059,1240,0,0],[933,1224,993,1348,1,0],[1059,1240,993,1348,1,1],[987,1262,993,1348,3,1],[914,1370,806,1437,1,0],[914,1370,987,1290,1,0],[1282,1303,1196,1397,1,1],[1103,1394,995,1458,0,0],[995,1458,1055,1461,1,1],[936,1509,995,1458,1,1],[809,1520,696,1478,1,1],[809,1520,902,1439,3,0],[470,1452,597,1445,1,0],[470,1452,586,1504,3,0],[1276,1093,1390,1131,0,1],[1276,1093,1253,1200,0,1],[1276,1093,1350,1233,0,1],[1253,1200,1390,1131,0,0],[1253,1200,1350,1233,0,0],[1313,1132,1390,1131,2,1],[1250,1014,1276,1093,2,0]];
const phylaB=["Firmicutes","Chloroflexi","Cyanobacteria","Patescibacteria","Actinobacteriota","Nitrospirota","Proteobacteria","Bacteroidota","Abditibacteriota","Dependentiae","Bdellovibrionota","Myxococcota","Planctomycetota","Gemmatimonadota","Armatimonadota","Verrucomicrobiota","Latescibacterota","Methylomirabilota","Halanaerobiaeota","Entotheonellaeota","Elusimicrobiota"];
const sizeTicksB=["1.00","4.00","7.00"];
const statsB=["50.3%","49.7%","235","358"];

const nodesC=[[830,33,20,6],[660,78,20,5],[757,92,20,5],[910,96,30,5],[1035,86,20,5],[605,109,20,0],[570,155,20,6],[717,161,25,6],[895,165,25,6],[1000,140,25,3],[824,171,20,5],[988,200,20,5],[1113,176,25,1],[483,124,15,8],[1195,171,10,9],[775,217,25,4],[653,225,25,5],[912,260,25,8],[1020,258,25,0],[389,189,15,5],[440,240,10,5],[511,242,15,5],[581,233,10,5],[286,257,25,0],[1122,248,15,5],[1248,256,15,1],[1341,273,20,0],[1184,293,10,6],[836,261,20,5],[629,316,25,0],[693,305,25,0],[822,329,20,0],[365,311,25,0],[300,334,10,5],[425,330,15,2],[503,340,40,0],[216,345,20,5],[759,337,20,9],[915,335,20,6],[1014,345,15,0],[1098,329,15,11],[1177,363,20,5],[1259,355,30,6],[1330,385,30,4],[1400,388,30,5],[303,405,20,1],[733,412,25,5],[836,412,20,5],[449,420,40,0],[543,397,40,6],[628,423,30,0],[387,440,40,5],[463,495,40,5],[534,487,40,8],[378,541,30,6],[461,581,35,5],[912,413,15,1],[964,459,10,3],[1043,436,20,5],[1083,456,20,6],[1176,428,30,5],[1254,460,30,5],[1350,490,25,10],[1434,462,10,1],[213,454,20,5],[310,497,20,5],[135,463,10,4],[171,553,20,6],[256,541,10,5],[93,582,10,9],[273,599,20,5],[686,473,10,5],[580,537,15,13],[661,545,35,1],[752,527,35,5],[806,492,35,14],[875,540,30,1],[547,596,15,6],[951,533,10,0],[1039,541,20,5],[1105,554,25,5],[1208,531,20,5],[1287,547,10,2],[1415,555,15,5],[1493,571,10,6],[787,640,41,6],[740,601,41,9],[874,623,30,5],[651,664,25,1],[962,613,25,5],[1110,624,20,0],[1197,601,20,11],[1298,633,20,1],[1390,614,10,5],[405,646,10,0],[204,639,20,0],[328,647,20,0],[524,674,10,2],[587,695,15,11],[1027,683,30,5],[1225,673,10,4],[1497,652,15,9],[1162,701,20,5],[1376,680,15,0],[1463,708,25,0],[98,671,10,5],[727,698,25,5],[820,697,25,5],[908,722,25,0],[968,748,20,0],[1074,743,20,5],[1270,735,20,0],[465,722,25,8],[347,734,15,6],[235,701,10,7],[144,741,15,5],[265,757,20,8],[51,752,10,8],[1150,773,10,5],[1388,756,25,6],[1531,759,25,14],[380,787,20,7],[450,809,20,7],[107,797,15,5],[532,808,25,6],[612,763,10,6],[700,782,30,1],[850,783,30,5],[778,827,25,3],[1010,803,20,6],[1212,804,15,5],[1330,810,25,5],[1086,846,20,5],[1420,837,25,0],[1508,846,25,5],[196,819,10,4],[894,848,15,0],[979,861,25,9],[333,860,20,6],[432,876,25,5],[497,884,20,0],[612,849,15,5],[773,884,15,4],[679,868,10,5],[72,876,10,3],[261,859,15,8],[152,911,20,6],[1158,879,20,0],[1266,875,10,4],[1063,922,20,6],[1252,923,30,4],[1342,918,30,9],[1415,908,30,11],[428,939,15,7],[207,945,15,0],[1509,939,10,6],[85,968,15,8],[260,981,15,2],[338,963,15,8],[580,956,20,0],[645,969,15,4],[716,963,15,10],[838,935,10,5],[910,963,20,5],[983,963,10,11],[1197,981,25,0],[1336,991,15,5],[120,1029,15,10],[462,1010,20,5],[528,1011,10,0],[789,1006,15,9],[866,1027,10,5],[1103,1016,20,1],[1311,1030,30,8],[1450,1004,30,6],[1021,1022,10,8],[168,1066,15,1],[247,1052,20,5],[360,1037,10,3],[570,1078,15,8],[663,1055,20,4],[888,1086,15,5],[973,1089,15,4],[1247,1074,15,8],[1375,1055,15,2],[1488,1063,10,5],[759,1079,10,6],[1083,1087,10,0],[483,1091,25,5],[360,1106,10,5],[1158,1090,15,4],[1400,1114,20,0],[164,1145,15,0],[274,1127,15,5],[594,1145,20,14],[729,1146,20,5],[828,1146,10,5],[1030,1147,10,1],[1266,1148,15,5],[1332,1170,20,0],[391,1172,25,6],[465,1196,25,5],[700,1188,20,0],[909,1159,15,8],[1202,1187,20,6],[1425,1189,10,5],[189,1216,10,6],[281,1218,30,0],[357,1226,30,0],[543,1207,25,0],[625,1215,15,5],[796,1213,15,6],[978,1217,20,9],[1079,1211,10,5],[1161,1216,25,1],[243,1289,30,0],[388,1295,30,9],[447,1303,20,5],[514,1288,20,1],[658,1282,10,10],[781,1280,15,6],[902,1275,15,0],[999,1291,10,5],[1297,1244,20,8],[1353,1289,10,11],[287,1352,30,8],[361,1370,30,1],[565,1324,10,5],[619,1361,10,8],[1069,1306,20,5],[1158,1296,15,8],[1213,1327,20,5],[1281,1334,15,5],[708,1350,15,5],[802,1373,10,5],[865,1330,15,1],[953,1344,20,8],[1089,1377,10,0],[460,1398,25,0],[561,1405,25,1],[740,1415,20,5],[959,1415,15,5],[1191,1414,15,2],[643,1457,25,3],[842,1450,20,0],[1041,1431,20,8],[1131,1453,10,5],[731,1476,15,0],[924,1477,10,0],[459,1495,20,5],[564,1507,20,6],[787,1521,25,8],[1020,1508,10,6],[681,1548,20,6],[907,1550,15,5]];
const edgesC=[[570,155,717,161,0,1],[605,109,660,78,1,0],[570,155,660,78,1,1],[570,155,653,225,1,0],[653,225,717,161,1,0],[605,109,653,225,3,1],[581,233,605,109,2,1],[757,92,830,33,1,0],[757,92,824,171,0,0],[830,33,824,171,1,1],[830,33,910,96,2,1],[824,171,910,96,1,1],[895,165,1000,140,1,0],[910,96,1035,86,3,0],[1035,86,988,200,1,0],[1035,86,1113,176,1,0],[988,200,1113,176,0,0],[895,165,1020,258,0,0],[988,200,1020,258,1,1],[775,217,912,260,0,1],[895,165,912,260,0,0],[912,260,1020,258,2,0],[757,92,912,96,3,1],[483,124,440,240,0,1],[483,124,511,242,2,1],[389,189,286,257,2,0],[389,189,365,311,1,0],[286,257,216,345,1,1],[286,257,303,405,1,1],[300,334,425,330,0,0],[365,311,303,405,2,1],[216,345,303,405,0,0],[216,345,365,360,2,0],[425,330,511,242,3,1],[629,316,733,412,0,1],[693,305,733,412,0,1],[628,423,733,412,0,1],[629,316,628,423,0,0],[693,305,628,423,3,0],[629,316,693,305,2,1],[836,261,759,337,1,0],[836,261,915,335,0,0],[759,337,915,335,1,1],[759,337,836,412,0,1],[836,412,915,335,1,0],[915,335,822,329,0,1],[836,261,836,412,1,1],[733,412,836,412,2,0],[912,413,1014,345,2,0],[1014,345,964,459,1,1],[912,413,951,533,1,0],[1122,248,1248,256,0,0],[1195,171,1248,256,1,1],[1122,248,1184,293,3,0],[1248,256,1177,363,1,1],[1098,329,1043,436,1,1],[1098,329,1177,363,3,1],[1043,436,1083,456,2,0],[1083,456,1105,554,0,1],[1083,456,1176,428,0,1],[1176,428,1208,531,1,1],[1105,554,1208,531,1,0],[1176,428,1105,554,2,0],[1259,355,1400,388,0,1],[1259,355,1330,385,2,0],[1254,460,1350,490,1,0],[1330,385,1350,490,1,1],[1341,273,1400,388,2,1],[1177,363,1254,460,2,1],[1254,460,1400,388,2,0],[1259,355,1254,460,2,0],[387,440,503,340,0,1],[449,420,543,397,0,1],[387,440,534,487,0,1],[378,541,463,495,0,1],[378,541,461,581,0,0],[463,495,449,420,0,1],[387,440,461,581,2,0],[461,581,534,487,2,1],[449,420,534,487,0,0],[387,440,378,541,2,1],[503,340,629,316,2,1],[463,495,461,581,0,1],[387,440,463,495,0,1],[425,330,449,420,0,0],[213,454,310,497,0,1],[213,454,171,553,1,0],[171,553,310,497,1,1],[310,497,273,599,1,1],[135,463,93,582,2,0],[171,553,273,599,3,0],[213,454,256,541,3,0],[686,473,580,537,1,0],[661,545,752,527,1,1],[752,527,875,540,1,0],[806,492,875,540,1,1],[661,545,651,664,0,1],[740,601,874,623,0,1],[787,640,874,623,0,0],[740,601,651,664,3,0],[547,596,651,664,1,0],[547,596,661,545,3,0],[752,527,806,492,3,1],[875,540,874,623,1,1],[651,664,740,601,1,0],[661,545,806,492,2,1],[727,698,820,697,0,0],[700,782,850,783,0,1],[700,782,778,827,0,0],[727,698,778,827,1,0],[820,697,778,827,0,0],[727,698,700,782,1,0],[820,697,850,783,2,1],[700,782,773,884,3,0],[850,783,773,884,3,1],[962,613,1039,541,0,1],[962,613,1110,624,0,0],[1039,541,1110,624,0,0],[962,613,1027,683,0,0],[908,722,1027,683,0,1],[1027,683,1110,624,0,0],[908,722,968,748,1,0],[968,748,1074,743,0,1],[1074,743,979,861,0,1],[968,748,1086,846,0,1],[908,722,894,848,0,1],[894,848,1010,803,1,1],[1010,803,1086,846,2,1],[1086,846,1074,743,0,0],[1027,683,1039,541,3,1],[908,722,962,613,2,0],[979,861,1010,803,1,1],[1287,547,1390,614,0,1],[1415,555,1497,652,0,0],[1390,614,1376,680,1,0],[1376,680,1463,708,1,0],[1197,601,1298,633,0,1],[1197,601,1270,735,0,0],[1298,633,1162,701,0,0],[1162,701,1298,633,0,1],[1197,601,1162,701,0,1],[1225,673,1150,773,1,1],[1162,701,1270,735,2,0],[1388,756,1463,708,0,1],[1388,756,1420,837,0,0],[1463,708,1420,837,0,1],[1463,708,1531,759,1,1],[1388,756,1508,846,1,1],[1420,837,1508,846,1,1],[1420,837,1531,759,1,0],[1508,846,1531,759,1,1],[1463,708,1508,846,1,1],[1212,804,1330,810,0,0],[1330,810,1342,918,0,0],[1252,923,1415,908,0,1],[1252,923,1342,918,1,0],[1063,922,1158,879,1,0],[1063,922,1197,981,0,0],[1158,879,1197,981,1,1],[1063,922,1103,1016,0,0],[1103,1016,1197,981,0,0],[1103,1016,1252,923,1,0],[1197,981,1252,923,1,1],[1266,875,1197,981,1,0],[1415,908,1311,1030,0,1],[1342,918,1336,991,1,1],[1336,991,1450,1004,1,1],[1311,1030,1375,1055,0,1],[1450,1004,1400,1114,0,0],[1311,1030,1400,1114,0,0],[1247,1074,1311,1030,0,1],[1375,1055,1332,1170,0,0],[1509,939,1488,1063,0,1],[1158,1090,1266,1148,0,1],[1266,1148,1332,1170,0,0],[1247,1074,1266,1148,0,0],[1158,1090,1161,1216,1,0],[1202,1187,1266,1148,1,1],[1202,1187,1297,1244,1,1],[1161,1216,1202,1187,1,1],[1202,1187,1213,1327,1,1],[1161,1216,1332,1170,2,0],[1297,1244,1213,1327,0,1],[1158,1296,1213,1327,0,1],[1213,1327,1191,1414,0,1],[1281,1334,1191,1414,0,0],[1158,1296,1281,1334,2,1],[1425,1189,1353,1289,1,0],[204,639,328,647,3,1],[204,639,144,741,1,1],[204,639,265,757,1,1],[328,647,265,757,0,1],[235,701,196,819,0,1],[144,741,265,757,2,0],[98,671,107,797,0,0],[51,752,72,876,1,0],[107,797,152,911,3,0],[405,646,524,674,2,1],[465,722,587,695,0,0],[465,722,532,808,0,1],[532,808,587,695,0,1],[347,734,380,787,0,0],[380,787,450,809,0,1],[380,787,333,860,0,1],[333,860,450,809,0,0],[380,787,432,876,0,1],[450,809,432,876,0,1],[333,860,428,939,3,0],[465,722,333,800,3,0],[612,763,679,868,0,1],[497,884,612,849,2,1],[497,884,462,1010,0,1],[497,884,580,956,2,0],[612,849,645,969,2,0],[152,911,261,859,0,0],[261,859,260,981,0,1],[152,911,260,981,0,0],[85,968,207,945,1,0],[207,945,168,1066,1,1],[85,968,168,1066,0,1],[120,1029,247,1052,0,1],[120,1029,164,1145,1,0],[168,1066,164,1145,3,0],[247,1052,338,963,2,0],[120,1029,168,1066,0,0],[462,1010,528,1011,0,0],[462,1010,580,956,0,1],[528,1011,580,956,0,1],[580,956,645,969,0,1],[462,1010,570,1078,3,0],[580,956,570,1078,3,1],[716,963,759,1079,0,1],[716,963,838,935,3,1],[789,1006,910,963,1,1],[789,1006,888,1086,0,1],[888,1086,910,963,3,0],[828,1146,888,1086,2,0],[983,963,973,1089,1,1],[973,1089,978,1217,0,0],[1021,1022,1030,1147,3,1],[1083,1087,1079,1211,1,1],[360,1037,164,1145,3,0],[360,1037,274,1127,1,1],[274,1127,189,1216,1,0],[483,1091,360,1106,1,0],[483,1091,391,1172,3,0],[663,1055,729,1146,1,1],[663,1055,594,1145,1,1],[594,1145,700,1188,0,0],[729,1146,700,1188,2,1],[625,1215,700,1188,2,1],[594,1145,729,1146,2,1],[700,1188,781,1280,2,1],[658,1282,781,1280,2,1],[625,1215,565,1324,3,1],[796,1213,909,1159,0,0],[909,1159,902,1275,1,0],[796,1213,902,1275,1,0],[978,1217,1069,1306,2,1],[978,1217,999,1291,0,1],[999,1291,953,1344,0,0],[1069,1306,953,1344,0,0],[1069,1306,1041,1431,0,0],[999,1291,1089,1377,1,0],[953,1344,1041,1431,0,1],[865,1330,959,1415,0,1],[865,1330,842,1450,1,0],[842,1450,959,1415,1,1],[842,1450,907,1550,0,1],[924,1477,1041,1431,2,1],[1020,1508,1131,1453,1,1],[391,1172,543,1207,0,1],[391,1172,447,1303,0,1],[465,1196,447,1303,0,1],[391,1172,514,1288,0,1],[465,1196,543,1207,0,0],[543,1207,514,1288,0,1],[447,1303,514,1288,0,0],[514,1288,619,1361,1,0],[565,1324,514,1288,3,1],[281,1218,388,1295,0,0],[357,1226,388,1295,0,1],[243,1289,388,1295,1,1],[281,1218,361,1370,0,0],[243,1289,287,1352,1,0],[287,1352,388,1295,1,1],[357,1226,287,1352,1,0],[281,1218,357,1226,0,1],[361,1370,388,1295,0,1],[287,1352,361,1370,1,0],[281,1218,287,1352,1,0],[357,1226,361,1370,1,1],[460,1398,561,1405,1,1],[459,1495,561,1405,0,0],[459,1495,564,1507,1,0],[460,1398,564,1507,2,1],[447,1303,460,1398,2,0],[460,1398,459,1495,3,0],[643,1457,740,1415,0,1],[740,1415,802,1373,0,1],[643,1457,787,1521,0,1],[681,1548,740,1415,0,1],[681,1548,643,1457,0,0],[731,1476,740,1415,0,1],[740,1415,787,1521,0,0],[643,1457,708,1350,2,1],[708,1350,731,1476,3,1],[787,1521,907,1550,3,1],[681,1548,787,1521,2,0]];
const phylaC=["Proteobacteria","Chloroflexi","Cyanobacteria","Patescibacteria","Bdellovibrionota","Abditibacteriota","Bacteroidota","Planctomycetota","Firmicutes","Myxococcota","Verrucomicrobiota","Nitrospirota","Elusimicrobiota","Gemmatimonadota","Hydrogenedentes","Latescibacterota","Dadabacteria","Armatimonadota","Desulfobacterota"];
const sizeTicksC=["1.00","4.00","7.00"];
const statsC=["44.6%","55.4%","255","368"];

const nodesD=[[645,46,16,7],[747,29,16,1],[821,44,12,8],[939,59,12,0],[669,145,16,7],[775,129,16,1],[529,69,16,2],[418,112,12,1],[610,124,16,4],[469,153,16,6],[862,157,13,7],[929,134,19,2],[1021,100,8,13],[1101,127,9,1],[1092,204,9,4],[1196,204,9,7],[349,211,13,8],[477,222,13,7],[558,214,16,7],[704,190,16,7],[792,223,16,7],[657,240,13,7],[995,193,23,13],[863,231,24,7],[925,259,24,8],[1019,266,23,4],[264,208,13,7],[1144,259,13,6],[1264,233,13,4],[414,242,13,7],[194,312,13,1],[319,311,20,0],[253,344,9,6],[541,296,12,14],[650,291,16,6],[759,322,19,2],[828,320,13,7],[698,335,12,10],[449,312,9,8],[546,387,9,4],[425,371,13,4],[1007,337,12,2],[925,345,20,1],[1100,349,23,1],[1172,372,23,2],[1232,344,13,4],[1311,325,9,2],[1377,383,9,4],[150,408,9,0],[339,376,16,6],[629,379,20,6],[771,424,13,6],[313,430,9,10],[430,448,20,9],[271,481,9,6],[508,454,20,8],[589,461,20,7],[831,473,34,8],[706,485,34,6],[1033,403,13,6],[1047,459,26,13],[1089,456,20,7],[1204,449,23,6],[1276,424,9,7],[1345,447,9,1],[208,495,9,7],[78,491,12,7],[119,478,12,1],[343,507,20,0],[488,528,19,2],[644,513,20,6],[755,525,34,8],[921,427,13,1],[951,491,16,8],[1069,534,16,6],[1159,517,23,7],[1423,500,13,7],[1341,532,9,7],[1254,531,9,9],[183,570,16,6],[403,587,19,2],[554,577,27,6],[692,566,34,7],[842,538,34,6],[929,550,27,10],[63,603,16,7],[1152,599,9,3],[1294,604,16,6],[1395,600,16,7],[1463,616,9,6],[209,628,23,11],[318,624,20,6],[787,591,34,7],[638,625,23,8],[978,616,16,8],[1036,618,13,3],[906,631,27,4],[104,652,23,2],[459,631,16,6],[520,646,16,6],[742,651,23,6],[807,645,34,7],[388,676,20,7],[254,677,20,7],[167,700,23,7],[1295,706,16,6],[1358,689,13,7],[1408,711,16,8],[1485,694,13,8],[1203,652,9,7],[1113,695,16,1],[608,684,16,7],[29,725,9,6],[250,730,23,6],[517,720,16,7],[97,754,23,7],[371,756,20,7],[452,752,13,5],[681,750,24,8],[875,762,36,1],[1021,729,40,2],[948,716,38,6],[939,781,38,0],[1053,782,37,0],[1221,729,13,1],[1222,777,16,1],[766,773,9,7],[183,793,23,0],[280,786,27,8],[1431,797,13,1],[58,846,9,2],[352,830,9,6],[563,801,13,8],[766,827,16,7],[1307,805,9,8],[626,835,16,7],[880,836,37,4],[923,887,38,7],[995,901,37,7],[983,828,37,6],[1054,852,38,6],[1129,822,16,7],[461,842,20,7],[1209,878,9,2],[1378,837,16,8],[1479,867,20,7],[128,867,16,1],[538,875,20,6],[813,893,13,1],[403,897,20,8],[634,904,20,6],[706,904,16,8],[197,897,23,3],[1356,888,12,11],[1146,924,13,7],[1270,928,13,11],[41,920,16,8],[274,921,23,11],[540,932,24,3],[347,936,9,0],[182,961,16,4],[1353,949,16,6],[1455,965,20,1],[534,974,20,8],[918,968,16,6],[434,989,34,7],[783,968,20,7],[659,996,20,5],[1049,979,23,6],[139,988,20,7],[1160,995,13,6],[84,1018,16,2],[338,1012,20,6],[272,1019,20,7],[1284,1018,13,7],[1399,1019,9,7],[534,1028,23,6],[938,1040,20,11],[1022,1046,23,11],[739,1043,20,7],[660,1057,20,7],[387,1056,9,6],[201,1057,20,6],[880,1043,9,7],[1209,1037,13,7],[1107,1054,9,6],[465,1086,20,6],[850,1089,13,2],[791,1108,19,13],[602,1088,20,4],[1301,1093,9,6],[1388,1098,9,7],[321,1102,20,0],[1081,1116,20,7],[123,1108,9,7],[400,1143,20,7],[558,1141,16,0],[982,1135,19,0],[1200,1115,13,6],[495,1153,13,7],[685,1165,16,7],[1288,1172,9,4],[764,1179,13,7],[1122,1178,9,3],[251,1161,16,7],[350,1200,16,7],[199,1203,9,6],[888,1204,12,11],[934,1194,16,3],[1227,1210,9,7],[1351,1195,9,7],[625,1230,13,7],[484,1237,16,11],[599,1265,13,4],[835,1226,16,12],[734,1257,16,5],[1053,1232,20,7],[224,1265,16,7],[391,1265,16,7],[1182,1258,13,7],[1127,1287,9,6],[1267,1290,9,7],[318,1295,16,8],[816,1281,16,0],[944,1309,16,7],[471,1323,16,7],[557,1306,16,6],[678,1317,20,2],[865,1336,16,4],[1023,1300,13,5],[1109,1351,13,5],[334,1357,16,8],[758,1359,16,1],[1023,1344,16,1],[606,1371,13,7],[425,1409,16,11],[550,1405,16,6],[657,1424,16,7],[828,1391,16,7],[939,1398,20,6],[1092,1415,20,8],[737,1441,16,8],[887,1475,16,8],[1002,1477,16,7],[518,1460,13,7],[641,1491,13,7],[792,1521,16,7]];
const edgesD=[[645,46,747,29,0,0],[747,29,669,145,0,1],[669,145,775,129,1,0],[747,29,775,129,1,0],[645,46,669,145,2,0],[645,46,775,129,3,0],[821,44,939,59,0,0],[821,44,862,157,1,1],[939,59,929,134,1,1],[862,157,929,134,1,0],[529,69,469,153,0,0],[529,69,610,124,0,1],[529,69,558,214,0,1],[469,153,610,124,0,1],[469,153,558,214,0,1],[610,124,558,214,0,1],[418,112,477,222,0,1],[469,153,477,222,0,1],[349,211,469,153,0,0],[349,211,477,222,0,1],[418,112,349,211,0,1],[1021,100,1092,204,0,0],[1101,127,1196,204,0,1],[1144,259,1264,233,1,1],[1144,259,1232,344,0,1],[1264,233,1232,344,1,1],[704,190,657,240,0,0],[704,190,792,223,3,1],[657,240,792,223,0,1],[650,291,759,322,0,1],[704,190,759,322,0,0],[792,223,759,322,0,0],[650,291,792,223,0,1],[541,296,657,240,0,1],[698,335,828,320,1,1],[828,320,771,424,1,0],[698,335,771,424,0,0],[657,240,650,291,0,0],[929,134,863,231,0,1],[929,134,995,193,0,1],[929,134,1019,266,1,0],[929,134,925,259,0,1],[863,231,1019,266,1,0],[863,231,925,345,1,0],[995,193,1019,266,1,1],[925,345,1019,266,3,0],[925,259,995,193,0,0],[264,208,194,312,1,0],[264,208,319,311,1,0],[194,312,253,344,2,0],[319,311,253,344,2,0],[319,311,414,242,2,1],[414,242,425,371,0,0],[319,311,425,371,2,0],[150,408,253,344,3,1],[449,312,546,387,1,0],[541,296,629,379,2,0],[339,376,271,481,0,0],[339,376,430,448,2,1],[313,430,208,495,1,0],[313,430,343,507,2,0],[430,448,343,507,0,0],[430,448,403,587,0,1],[343,507,403,587,0,1],[343,507,488,528,1,1],[430,448,488,528,1,1],[488,528,403,587,1,1],[508,454,589,461,1,1],[508,454,644,513,0,0],[589,461,644,513,1,1],[629,379,589,461,1,1],[488,528,554,577,0,0],[644,513,554,577,0,1],[508,454,554,577,0,0],[554,577,403,587,3,0],[706,485,831,473,2,1],[706,485,692,566,0,0],[755,525,842,538,0,1],[692,566,787,591,0,0],[842,538,787,591,0,1],[842,538,807,645,0,1],[787,591,807,645,0,0],[692,566,742,651,0,0],[638,625,742,651,0,0],[787,591,906,631,2,1],[842,538,906,631,2,0],[807,645,906,631,2,0],[906,631,929,550,1,1],[929,550,978,616,2,0],[706,485,638,625,2,0],[755,525,742,651,2,1],[906,631,1036,618,1,0],[978,616,1036,618,0,0],[951,491,1036,618,0,1],[951,491,1069,534,0,0],[1036,618,1069,534,0,0],[921,427,1047,459,0,0],[925,345,1007,337,0,1],[925,345,921,427,0,0],[1047,459,1033,403,0,1],[1047,459,1089,456,0,1],[1033,403,1047,459,0,0],[1047,459,951,491,0,0],[1069,534,1047,459,0,1],[1100,349,1172,372,1,1],[1100,349,1204,449,1,0],[1100,349,1159,517,0,1],[1172,372,1204,449,0,1],[1172,372,1159,517,0,1],[1089,456,1204,449,2,1],[1204,449,1159,517,1,1],[1089,456,1159,517,2,0],[1033,403,1100,349,2,1],[1089,456,1204,449,3,0],[1276,424,1341,532,0,0],[1311,325,1345,447,0,0],[1377,383,1423,500,2,1],[1423,500,1463,616,1,0],[1254,531,1152,599,1,1],[183,570,63,603,0,0],[78,491,63,603,2,0],[119,478,183,570,2,0],[78,491,183,570,2,0],[119,478,63,603,2,1],[104,652,209,628,1,0],[209,628,167,700,0,1],[104,652,167,700,0,0],[104,652,183,793,0,0],[104,652,97,754,1,0],[167,700,250,730,0,0],[97,754,183,793,0,0],[97,754,209,628,1,0],[167,700,183,793,0,0],[183,793,250,730,1,0],[209,628,183,793,1,1],[97,754,167,700,1,1],[318,624,254,677,0,0],[254,677,388,676,0,0],[318,624,388,676,0,1],[388,676,371,756,0,1],[254,677,371,756,0,0],[388,676,280,786,0,0],[250,730,254,677,0,1],[318,624,388,676,2,1],[371,756,250,730,0,0],[280,786,371,756,2,0],[403,587,459,631,2,0],[459,631,608,684,1,1],[520,646,459,631,1,0],[608,684,517,720,0,0],[459,631,517,720,1,1],[520,646,517,720,0,1],[517,720,452,752,0,1],[452,752,352,830,1,0],[608,684,554,577,2,0],[29,725,58,846,1,1],[280,786,197,897,2,0],[280,786,274,921,2,1],[681,750,766,827,3,1],[681,750,626,835,2,1],[681,750,638,625,2,0],[681,750,742,651,2,1],[766,773,766,827,0,1],[626,835,766,827,1,0],[626,835,706,904,0,0],[706,904,766,827,1,1],[563,801,634,904,1,0],[766,827,813,893,2,0],[813,893,918,968,0,0],[918,968,1049,979,2,1],[461,842,538,875,0,1],[403,897,540,932,0,0],[461,842,403,897,0,0],[461,842,540,932,0,0],[538,875,540,932,0,1],[540,932,634,904,0,1],[540,932,659,996,0,1],[634,904,659,996,0,1],[403,897,434,989,2,1],[534,974,659,996,1,1],[534,1028,659,996,1,1],[534,1028,602,1088,1,1],[338,1012,434,989,0,1],[321,1102,465,1086,0,1],[338,1012,465,1086,0,0],[347,936,400,1020,0,1],[400,1020,400,1143,0,1],[321,1102,338,1012,0,1],[321,1102,400,1143,1,0],[400,1143,465,1086,1,0],[338,1012,400,1143,1,0],[434,989,534,974,2,0],[602,1088,558,1141,0,1],[495,1153,558,1141,0,0],[558,1141,625,1230,0,1],[602,1088,495,1153,3,0],[41,920,128,867,1,0],[41,920,84,1018,1,0],[41,920,139,988,0,0],[128,867,139,988,0,1],[128,867,182,961,1,0],[197,897,201,1057,0,1],[197,897,274,921,0,1],[274,921,272,1019,0,1],[274,921,139,988,0,0],[197,897,272,1019,0,0],[139,988,272,1019,0,0],[139,988,201,1057,0,0],[201,1057,272,1019,0,1],[84,1018,182,961,1,0],[197,897,201,1057,0,0],[783,968,739,1043,0,0],[660,1057,739,1043,0,1],[660,1057,685,1165,0,1],[685,1165,791,1108,0,0],[660,1057,791,1108,0,0],[739,1043,685,1165,0,1],[739,1043,791,1108,2,1],[783,968,880,1043,2,1],[783,968,660,1057,2,1],[938,1040,1022,1046,0,0],[1049,979,1022,1046,0,1],[1049,979,938,1040,2,1],[938,1040,982,1135,1,0],[982,1135,1081,1116,0,1],[1022,1046,1081,1116,1,0],[1107,1054,1081,1116,1,1],[1081,1116,1122,1178,1,1],[982,1135,1022,1046,3,1],[850,1089,764,1179,1,1],[850,1089,888,1204,2,0],[1146,924,1270,928,0,0],[1146,924,1209,1037,2,0],[1270,928,1209,1037,0,1],[1160,995,1284,1018,0,1],[1160,995,1209,1037,0,0],[1284,1018,1209,1037,0,0],[1209,1037,1200,1115,0,1],[1209,1037,1200,1115,0,0],[1113,695,1129,822,0,1],[1221,729,1129,822,2,0],[1222,777,1129,822,2,0],[1113,695,1222,777,2,1],[1203,652,1129,822,0,0],[1295,706,1294,604,0,1],[1294,604,1395,600,0,1],[1295,706,1408,711,2,1],[1294,604,1408,711,0,1],[1295,706,1395,600,0,1],[1358,689,1431,797,0,0],[1408,711,1485,694,1,1],[1485,694,1431,797,1,0],[1209,878,1307,805,1,1],[1378,837,1479,867,2,1],[1356,888,1353,949,1,0],[1479,867,1455,965,1,1],[1353,949,1479,867,2,1],[1378,837,1353,949,1,0],[1356,888,1455,965,3,1],[1353,949,1455,965,2,1],[1301,1093,1399,1019,0,1],[1288,1172,1388,1098,1,1],[1267,1290,1351,1195,0,1],[1127,1287,1227,1210,1,1],[1127,1287,1182,1258,0,1],[1053,1232,1127,1287,2,0],[1109,1351,1127,1287,0,1],[123,1108,199,1203,1,0],[251,1161,350,1200,0,1],[251,1161,224,1265,0,0],[251,1161,318,1295,0,0],[350,1200,318,1295,0,0],[224,1265,318,1295,2,0],[391,1265,334,1357,2,0],[334,1357,471,1323,0,1],[471,1323,425,1409,0,0],[334,1357,425,1409,0,1],[391,1265,471,1323,2,1],[484,1237,625,1230,1,1],[484,1237,599,1265,1,1],[558,1141,599,1265,2,1],[835,1226,734,1257,0,0],[835,1226,758,1359,0,1],[734,1257,758,1359,0,0],[758,1359,865,1336,0,0],[816,1281,865,1336,0,0],[734,1257,865,1336,2,0],[835,1226,865,1336,2,0],[888,1204,835,1226,3,0],[764,1179,835,1226,2,0],[816,1281,944,1309,2,1],[934,1194,1053,1232,0,1],[934,1194,944,1309,0,1],[944,1309,1053,1232,2,1],[1053,1232,1109,1351,2,0],[557,1306,678,1317,2,1],[557,1306,550,1405,0,0],[678,1317,550,1405,0,0],[550,1405,657,1424,0,1],[678,1317,657,1424,2,1],[557,1306,657,1424,0,0],[606,1371,550,1405,0,0],[606,1371,657,1424,0,1],[518,1460,641,1491,0,1],[550,1405,518,1460,0,0],[657,1424,641,1491,0,1],[678,1317,760,1330,2,1],[737,1441,828,1391,1,1],[737,1441,792,1521,0,0],[737,1441,887,1475,0,0],[828,1391,887,1475,1,0],[828,1391,792,1521,1,1],[792,1521,887,1475,0,0],[939,1398,1023,1300,0,1],[939,1398,1092,1415,0,1],[1023,1344,1092,1415,0,0],[1023,1300,1092,1415,0,0],[939,1398,1002,1477,3,0],[1023,1344,1002,1477,0,1],[1002,1477,1092,1415,3,0],[1023,1344,1092,1415,3,1]];
const phylaD=["Verrucomicrobiota","Firmicutes","Chloroflexi","Elusimicrobiota","Patescibacteria","Armatimonadota","Proteobacteria","Abditibacteriota","Bacteroidota","Bdellovibrionota","Dependentiae","Cyanobacteria","Methylomirabilota","Myxococcota","Latescibacterota","Gemmatimonadota","Planctomycetota","Deinococcota","Nitrospirota"];
const sizeTicksD=["1.00","5.50","10.00"];
const statsD=["34.1%","65.9%","247","407"];

const palette=["#17aeb5","#8bc755","#4a1d10","#52b848","#5e60aa","#5f4517","#51409a","#17a44a","#6cc19c","#8d4a9e","#c5b233","#e9168c","#4db56f","#a8822e","#7d8a72"];
const legendOrder=[0,1,2,3,4,5,6,7,8,4,9,7,10,11,12,13,8,14,9,0,1,2,3,4];
const edgeColors=["#ee2026","#c272b8","#f9a9a6","#eeb9e0"];
const edgeWidths=[4.2,4.2,1.4,1.4];
const legendSizes=[11,26,42];

const NS="http://www.w3.org/2000/svg";
const fig=document.getElementById("fig");
const layoutSpan=1568;
const rScale=v=>v*0.74;
function make(tag,attrs,parent){
  const e=document.createElementNS(NS,tag);
  for(const k in attrs){e.setAttribute(k,attrs[k]);}
  parent.appendChild(e);
  return e;
}
function drawNetwork(id,nodes,edges,x0,y0,w,h){
  const xScale=v=>x0+v*w/layoutSpan;
  const yScale=v=>y0+v*h/layoutSpan;
  const g=make("g",{},fig);
  
  
  edges.slice().sort((a,b)=>b[4]-a[4]).forEach(ed=>{
    const x1=xScale(ed[0]),y1=yScale(ed[1]),x2=xScale(ed[2]),y2=yScale(ed[3]);
    const R=Math.hypot(x2-x1,y2-y1)*0.72;
    const p=make("path",{d:"M"+x1+" "+y1+"A"+R+" "+R+" 0 0 "+ed[5]+" "+x2+" "+y2,fill:"none",stroke:edgeColors[ed[4]],"stroke-width":edgeWidths[ed[4]]},g);
    
    
  });
  nodes.forEach(n=>{
    const c=make("circle",{cx:xScale(n[0]),cy:yScale(n[1]),r:rScale(n[2]),fill:palette[n[3]],stroke:"#ffffff","stroke-width":1.4},g);
    
    
  });
}
function label(txt,x,y,cls,parent){
  const t=make("text",{x:x,y:y,class:cls},parent);
  t.textContent=txt;
  return t;
}
function drawLegend(id,phyla,ticks,stats,lx,ly,sizeY,negY,posY,noteY,edgeY){
  const g=make("g",{},fig);
  
  
  phyla.forEach((name,i)=>{
    const cy=ly+i*21.74;
    const s=make("rect",{x:lx,y:cy-8,width:16,height:15,fill:palette[legendOrder[i]]},g);
    
    
    const t=label("p__"+name,lx+29,cy+7,"lg",g);
    
    
  });
  ticks.forEach((tick,i)=>{
    const c=make("circle",{cx:lx+31,cy:sizeY[i],r:rScale(legendSizes[i]),fill:"#cfcfcf"},g);
    
    
    const t=label(tick,lx+79,sizeY[i]+7,"sz",g);
    
    
  });
  const r1=make("rect",{x:lx,y:negY-10,width:42,height:19,fill:"#1070bb"},g);
  
  
  const r2=make("rect",{x:lx,y:posY-10,width:42,height:19,fill:"#ee1c25"},g);
  
  
  const a=label("Negative",lx+54,negY+8,"st",g);
  
  
  const b=label(stats[0],lx+168,negY+8,"st",g);
  
  
  const c=label("Positive",lx+59,posY+8,"st",g);
  
  
  const d=label(stats[1],lx+164,posY+8,"st",g);
  
  
  const e=label("Notes：",lx+1,noteY+8,"st",g);
  
  
  const f=label(stats[2],lx+84,noteY+8,"st",g);
  
  
  const h=label("Edges：",lx+1,edgeY+8,"st",g);
  
  
  const j=label(stats[3],lx+86,edgeY+8,"st",g);
  
  
}
drawNetwork("a",nodesA,edgesA,30,10,1160,1100);
drawNetwork("b",nodesB,edgesB,1640,20,1160,1100);
drawNetwork("c",nodesC,edgesC,30,1280,1160,1150);
drawNetwork("d",nodesD,edgesD,1660,1280,1160,1150);
drawLegend("a",phylaA,sizeTicksA,statsA,1232,31,[611,665,719],833,879,990,1030);
drawLegend("b",phylaB,sizeTicksB,statsB,2837,30,[545,600,654],793,841,952,992);
drawLegend("c",phylaC,sizeTicksC,statsC,1232,1296,[1759,1813,1867],2062,2107,2221,2260);
drawLegend("d",phylaD,sizeTicksD,statsD,2837,1296,[1797,1851,1904],2032,2079,2223,2260);
[["A",14,54],["B",1620,54],["C",14,1318],["D",1620,1318]].forEach(p=>{
  const t=label(p[0],p[1],p[2],"pl",fig);
  
  
});
</script>
</body>
</html>
